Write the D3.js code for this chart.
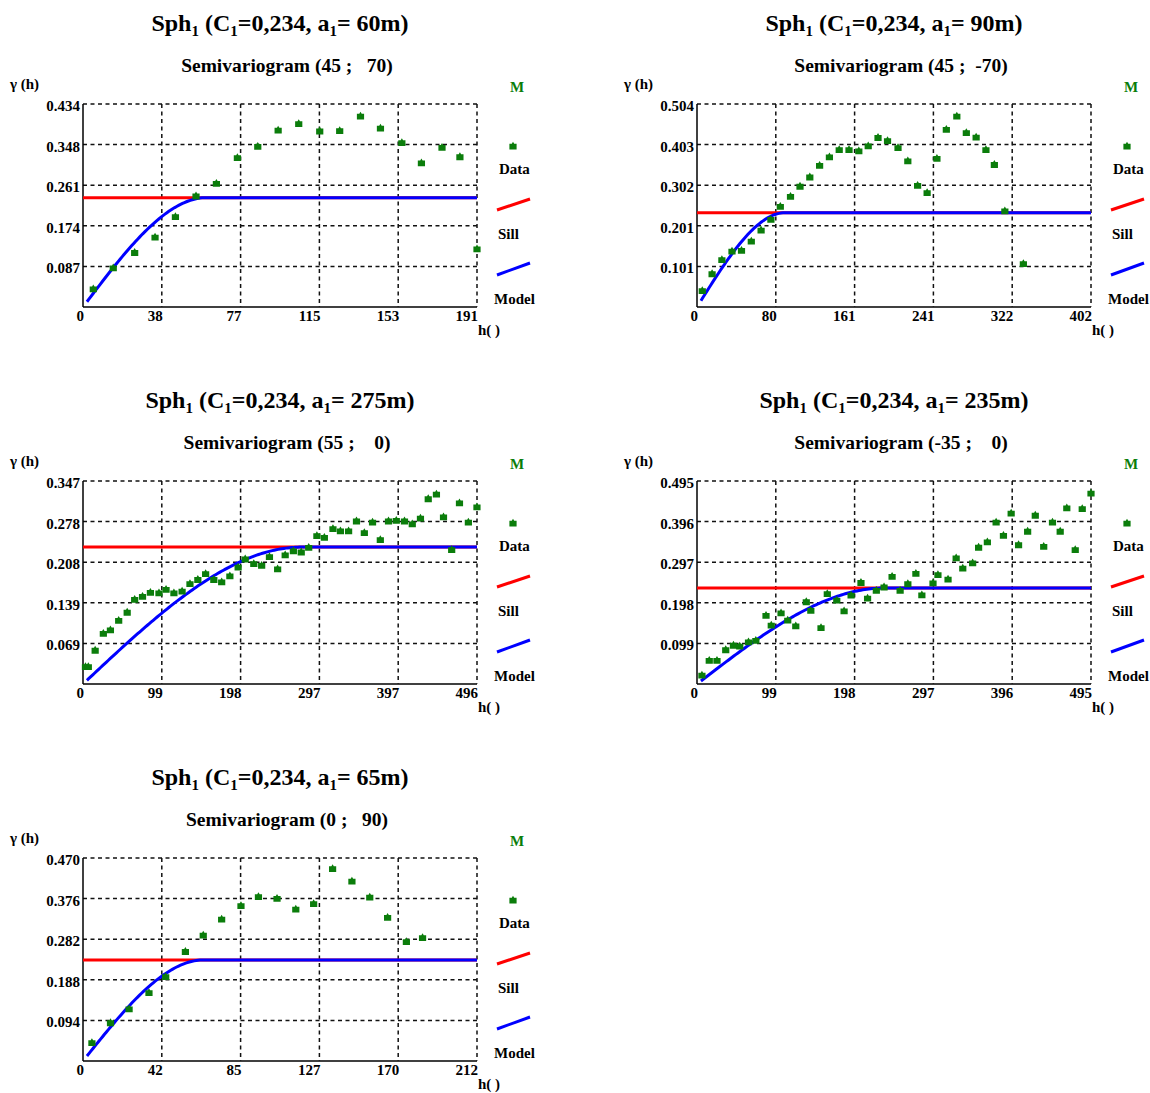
<!DOCTYPE html>
<html><head><meta charset="utf-8">
<script src="https://cdn.jsdelivr.net/npm/d3@7"></script>
<style>
body{margin:0;background:#fff}
svg text{font-family:"Liberation Serif","Times New Roman",serif;font-weight:bold;fill:#000}
</style></head><body><svg id="c" width="1150" height="1093"></svg>
<script>
// Spherical model: common sill, one range per direction
const sill = 0.234;
const ranges = [60, 90, 275, 235, 65];
const directions = ["(45 ;   70)", "(45 ;  -70)", "(55 ;    0)", "(-35 ;    0)", "(0 ;   90)"];

// Experimental semivariogram, direction (45 ; 70)
const lag1 = [5.0,14.7,25.1,35.0,44.9,54.9,64.8,75.0,84.9,94.8,104.8,115.0,124.7,134.8,144.5,154.9,164.4,174.4,183.1,191.4];
const gamma1 = [0.039,0.084,0.117,0.150,0.194,0.238,0.265,0.320,0.344,0.379,0.393,0.377,0.378,0.409,0.383,0.352,0.309,0.342,0.322,0.125];

// Direction (45 ; -70)
const lag2 = [5.4,15.4,25.4,35.7,45.4,55.4,65.4,75.4,85.0,95.4,105.1,115.1,125.1,135.1,145.1,155.1,165.1,174.7,184.7,194.4,205.1,215.1,225.1,234.8,244.8,254.4,265.1,274.8,284.8,294.8,303.4,314.1,333.0];
const gamma2 = [0.041,0.083,0.118,0.139,0.141,0.164,0.191,0.218,0.250,0.275,0.300,0.323,0.352,0.373,0.391,0.391,0.388,0.400,0.421,0.413,0.396,0.363,0.302,0.284,0.369,0.441,0.474,0.433,0.422,0.391,0.354,0.239,0.108];

// Direction (55 ; 0)
const lag3 = [3.1,6.7,15.3,25.6,34.5,44.9,55.6,65.0,74.9,84.8,95.6,104.5,114.4,124.7,134.6,144.5,154.3,164.6,174.5,184.8,195.2,204.1,214.9,224.8,234.6,244.9,254.4,264.7,274.6,284.0,294.3,303.7,314.5,323.9,334.2,344.1,354.0,364.3,374.1,384.4,394.2,404.5,414.3,424.6,434.4,444.7,453.6,463.9,473.7,484.9,495.7];
const gamma3 = [0.030,0.030,0.058,0.087,0.093,0.109,0.123,0.145,0.150,0.157,0.156,0.162,0.156,0.159,0.172,0.179,0.189,0.179,0.175,0.185,0.200,0.214,0.206,0.203,0.218,0.197,0.221,0.228,0.226,0.234,0.254,0.251,0.266,0.262,0.262,0.279,0.259,0.277,0.247,0.279,0.280,0.279,0.274,0.284,0.317,0.325,0.286,0.230,0.310,0.277,0.303];

// Direction (-35 ; 0)
const lag4 = [6.2,15.4,25.1,36.1,45.8,53.7,64.7,73.9,86.7,93.3,105.6,114.0,124.1,137.3,143.0,155.8,163.7,175.6,184.8,193.6,206.0,214.3,225.3,235.0,245.1,255.2,264.9,275.0,282.5,296.5,302.7,315.4,325.6,333.9,346.3,353.8,364.8,375.8,385.0,394.7,404.0,415.4,425.0,435.6,446.6,456.3,464.6,475.2,484.0,495.0];
const gamma4 = [0.022,0.058,0.058,0.084,0.095,0.093,0.103,0.107,0.168,0.144,0.174,0.156,0.142,0.201,0.180,0.138,0.221,0.205,0.179,0.217,0.248,0.210,0.229,0.237,0.263,0.229,0.245,0.270,0.218,0.247,0.267,0.256,0.308,0.283,0.296,0.334,0.347,0.395,0.363,0.417,0.340,0.373,0.412,0.336,0.395,0.373,0.430,0.328,0.428,0.466];

// Direction (0 ; 90)
const lag5 = [4.8,14.8,24.8,35.5,44.5,55.1,64.7,74.6,85.0,94.4,104.4,114.5,124.1,134.3,144.7,154.3,163.9,174.0,182.7];
const gamma5 = [0.043,0.089,0.121,0.159,0.196,0.254,0.292,0.329,0.360,0.381,0.377,0.352,0.365,0.446,0.417,0.380,0.333,0.277,0.286];

// Axis extents and tick labels
const xMaxes = [191.4, 402, 495.75, 495, 212];
const yMaxes = [0.4344, 0.5036, 0.347, 0.495, 0.470];
const xTickLabels = [
  ["0","38","77","115","153","191"],
  ["0","80","161","241","322","402"],
  ["0","99","198","297","397","496"],
  ["0","99","198","297","396","495"],
  ["0","42","85","127","170","212"]
];
const yTickLabels = [
  ["0.087","0.174","0.261","0.348","0.434"],
  ["0.101","0.201","0.302","0.403","0.504"],
  ["0.069","0.139","0.208","0.278","0.347"],
  ["0.099","0.198","0.297","0.396","0.495"],
  ["0.094","0.188","0.282","0.376","0.470"]
];

const lags = [lag1, lag2, lag3, lag4, lag5];
const gammas = [gamma1, gamma2, gamma3, gamma4, gamma5];

const W = 394, H = 203;
const origins = [[83,104],[697,104],[83,481],[697,481],[83,858]];

const svg = d3.select("#c");

function spherical(h, a) {
  if (h >= a) return sill;
  const r = h / a;
  return sill * (1.5 * r - 0.5 * r * r * r);
}

// Blocky data marker with a small peak on top
const marker = "M-3.6,-2.2L-1.2,-2.2L0,-4.2L1.2,-2.2L3.6,-2.2L3.6,3.6L-3.6,3.6Z";
const green = "#0b7d0b";

origins.forEach(([ox, oy], k) => {
  const g = svg.append("g").attr("transform", `translate(${ox},${oy})`);
  const xMax = xMaxes[k], yMax = yMaxes[k];
  const x = d3.scaleLinear().domain([0, xMax]).range([0, W]);
  const y = d3.scaleLinear().domain([0, yMax]).range([H, 0]);

  // Titles
  const t = g.append("text").attr("x", W / 2).attr("y", -73)
    .attr("text-anchor", "middle").style("font-size", "24px");
  t.append("tspan").text("Sph");
  t.append("tspan").attr("dy", 5).style("font-size", "15px").text("1");
  t.append("tspan").attr("dy", -5).text(" (C");
  t.append("tspan").attr("dy", 5).style("font-size", "15px").text("1");
  t.append("tspan").attr("dy", -5).text("=0,234, a");
  t.append("tspan").attr("dy", 5).style("font-size", "15px").text("1");
  t.append("tspan").attr("dy", -5).text(`= ${ranges[k]}m)`);

  g.append("text").attr("x", W / 2 + 7).attr("y", -32)
    .attr("text-anchor", "middle").style("font-size", "19.5px")
    .style("white-space", "pre").text("Semivariogram " + directions[k]);

  g.append("text").attr("x", -73).attr("y", -15).style("font-size", "15px").text("\u03b3 (h)");

  // Grid (dashed) for interior lines plus top and right borders
  const gx = d3.range(1, 6).map(i => xMax * i / 5);
  const gy = d3.range(1, 6).map(i => yMax * i / 5);
  g.selectAll(".vg").data(gx).join("line")
    .attr("x1", d => x(d)).attr("x2", d => x(d)).attr("y1", 0).attr("y2", H)
    .attr("stroke", "#111").attr("stroke-width", 1.5).attr("stroke-dasharray", "4,3.5");
  g.selectAll(".hg").data(gy).join("line")
    .attr("y1", d => y(d)).attr("y2", d => y(d)).attr("x1", 0).attr("x2", W)
    .attr("stroke", "#111").attr("stroke-width", 1.5).attr("stroke-dasharray", "4,3.5");

  // Solid left and bottom axes
  g.append("line").attr("x1", 0).attr("x2", 0).attr("y1", 0).attr("y2", H)
    .attr("stroke", "#000").attr("stroke-width", 1.5);
  g.append("line").attr("x1", 0).attr("x2", W).attr("y1", H).attr("y2", H)
    .attr("stroke", "#000").attr("stroke-width", 1.5);

  // Tick labels
  g.selectAll(".xl").data(xTickLabels[k]).join("text")
    .attr("x", (d, i) => x(xMax * i / 5) + 1).attr("y", H + 14)
    .attr("text-anchor", "end").style("font-size", "15px").text(d => d);
  g.selectAll(".yl").data(yTickLabels[k]).join("text")
    .attr("x", -3).attr("y", (d, i) => y(yMax * (i + 1) / 5) + 7)
    .attr("text-anchor", "end").style("font-size", "15px").text(d => d);
  g.append("text").attr("x", W + 1).attr("y", H + 28).style("font-size", "15px").text("h( )");

  // Sill line, then the model on top
  g.append("line").attr("x1", x(0)).attr("x2", x(xMax))
    .attr("y1", y(sill)).attr("y2", y(sill))
    .attr("stroke", "#ff0000").attr("stroke-width", 3);
  const h0 = xMax / 100;
  const hs = d3.range(0, 201).map(i => h0 + (xMax - h0) * i / 200).concat([ranges[k]]).sort((a, b) => a - b);
  g.append("path").datum(hs)
    .attr("d", d3.line().x(d => x(d)).y(d => y(spherical(d, ranges[k]))))
    .attr("fill", "none").attr("stroke", "#0000ff").attr("stroke-width", 3);

  // Data points
  g.selectAll(".pt").data(lags[k].map((h, i) => [h, gammas[k][i]])).join("path")
    .attr("d", marker).attr("fill", green)
    .attr("transform", d => `translate(${x(d[0])},${y(d[1])})`);

  // Legend
  const L = g.append("g").attr("transform", `translate(${W},0)`);
  L.append("text").attr("x", 40).attr("y", -12).attr("text-anchor", "middle")
    .style("font-size", "15px").style("fill", green).text("M");
  L.append("path").attr("d", marker).attr("fill", green).attr("transform", "translate(36,42)");
  L.append("text").attr("x", 22).attr("y", 70).style("font-size", "15px").text("Data");
  L.append("line").attr("x1", 20).attr("y1", 106).attr("x2", 53).attr("y2", 95)
    .attr("stroke", "#ff0000").attr("stroke-width", 3);
  L.append("text").attr("x", 21).attr("y", 135).style("font-size", "15px").text("Sill");
  L.append("line").attr("x1", 20).attr("y1", 171).attr("x2", 53).attr("y2", 159)
    .attr("stroke", "#0000ff").attr("stroke-width", 3);
  L.append("text").attr("x", 17).attr("y", 200).style("font-size", "15px").text("Model");
});
</script></body></html>
